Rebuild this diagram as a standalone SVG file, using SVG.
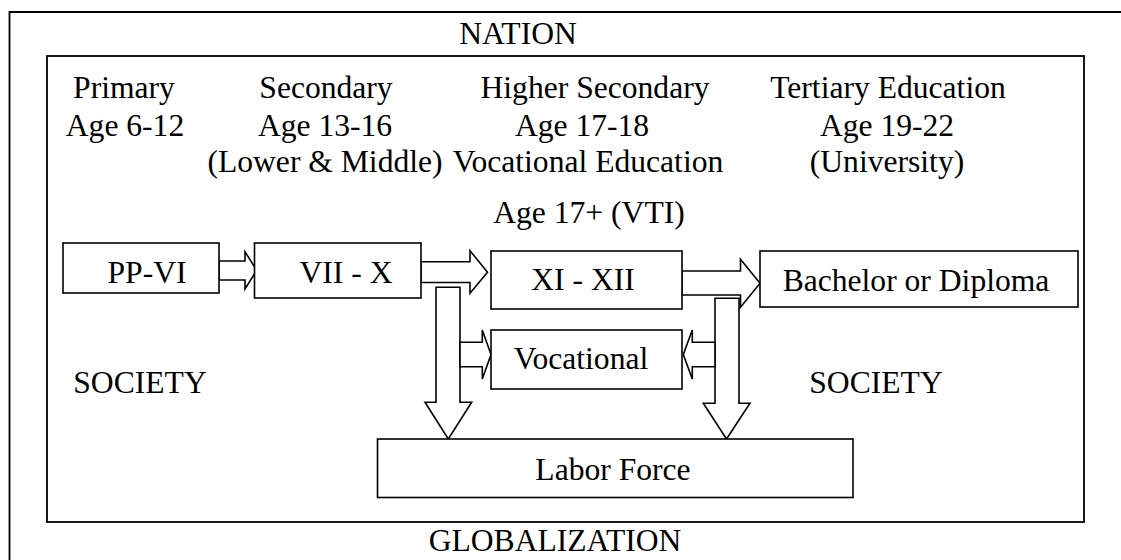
<svg xmlns="http://www.w3.org/2000/svg" width="1121" height="560" viewBox="0 0 1121 560">
<style>
.t{font-size:31.6px;fill:#000;text-anchor:middle}
.box{fill:#fff;stroke:#000;stroke-width:1.6}
.frame{fill:none;stroke:#000;stroke-width:1.8}
.arr{fill:#fff;stroke:#000;stroke-width:1.6;stroke-linejoin:miter}
</style>
<rect width="1121" height="560" fill="#fff"/>
<g font-family="Liberation Serif">
<g id="outer-frame">
<polyline class="frame" points="9.5,560 9.5,12 1121,12"/>
<text class="t" x="518" y="44">NATION</text>
<text class="t" x="555" y="551">GLOBALIZATION</text>
</g>
<g id="inner-frame">
<rect class="frame" x="47" y="56" width="1037" height="466"/>
</g>
<g id="headers">
<text class="t" x="124" y="98">Primary</text>
<text class="t" x="125" y="136">Age 6-12</text>
<text class="t" x="326" y="98">Secondary</text>
<text class="t" x="325" y="136">Age 13-16</text>
<text class="t" x="325" y="172">(Lower &amp; Middle)</text>
<text class="t" x="595" y="98">Higher Secondary</text>
<text class="t" x="582" y="136">Age 17-18</text>
<text class="t" x="588" y="172">Vocational Education</text>
<text class="t" x="888" y="98">Tertiary Education</text>
<text class="t" x="887" y="136">Age 19-22</text>
<text class="t" x="887" y="172">(University)</text>
<text class="t" x="589" y="223">Age 17+ (VTI)</text>
<text class="t" x="140" y="393">SOCIETY</text>
<text class="t" x="876" y="393">SOCIETY</text>
</g>
<g id="connectors">
<polygon class="arr" points="219,261 245,261 245,251.7 256.7,270.3 245,289 245,280 219,280"/>
<polygon class="arr" points="421,261.7 470,261.7 470,250.7 487.5,272.3 470,293.3 470,282.5 421,282.5"/>
<polygon class="arr" points="682,271 740.5,271 740.5,259.3 760,283.3 740.5,307.3 740.5,295 682,295"/>
<polygon class="arr" points="436,287.3 460,287.3 460,402.3 471.7,402.3 448.3,439 425,402.3 436,402.3"/>
<polygon class="arr" points="460,342.3 482.3,342.3 482.3,330 491,354.5 482.3,379 482.3,366.7 460,366.7"/>
<polygon class="arr" points="715,298.3 739,298.3 739,403.3 750,403.3 726.5,439 703.3,403.3 715,403.3"/>
<polygon class="arr" points="715,342.3 692.3,342.3 692.3,330 683.3,354.5 692.3,379 692.3,366.7 715,366.7"/>
</g>
<g id="node-ppvi">
<rect class="box" x="63" y="243" width="156" height="50"/>
<text class="t" x="147" y="283">PP-VI</text>
</g>
<g id="node-vii-x">
<rect class="box" x="254.5" y="243" width="166.5" height="55"/>
<text class="t" x="346" y="283">VII - X</text>
</g>
<g id="node-xi-xii">
<rect class="box" x="491" y="251" width="191" height="58"/>
<text class="t" x="583" y="290">XI - XII</text>
</g>
<g id="node-vocational">
<rect class="box" x="491" y="330" width="191" height="59"/>
<text class="t" x="581" y="369">Vocational</text>
</g>
<g id="node-bachelor">
<rect class="box" x="760" y="251" width="318" height="56"/>
<text class="t" x="916" y="291">Bachelor or Diploma</text>
</g>
<g id="node-labor">
<rect class="box" x="377.5" y="439" width="475.5" height="58.5"/>
<text class="t" x="613" y="480">Labor Force</text>
</g>
</g>
</svg>
